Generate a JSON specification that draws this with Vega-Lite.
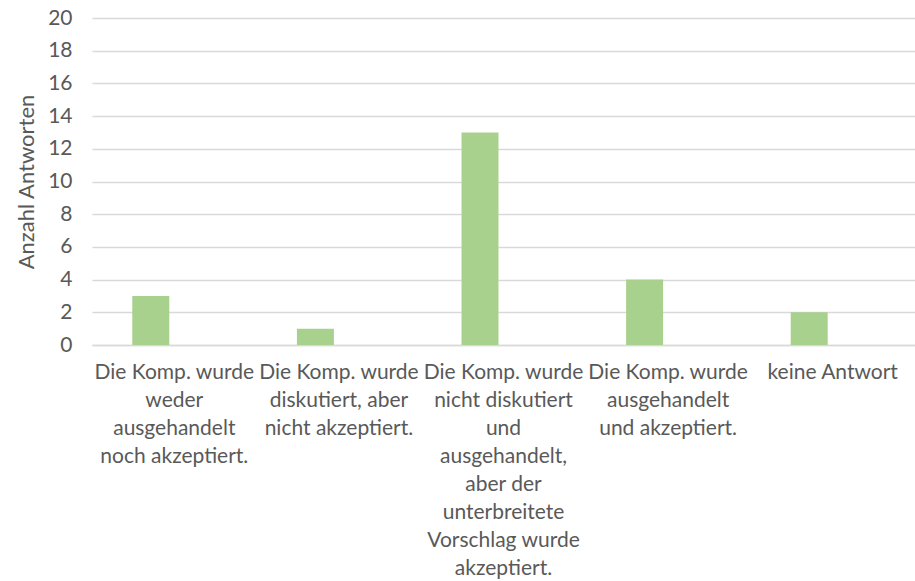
{
  "$schema": "https://vega.github.io/schema/vega-lite/v6.json",
  "width": 823,
  "height": 327,
  "autosize": {"type": "none"},
  "padding": {"left": 92, "top": 18, "right": 0, "bottom": 236},
  "background": "white",
  "config": {
    "view": {"stroke": null},
    "font": "Lato",
    "axis": {"labelFont": "Lato", "titleFont": "Lato", "labelColor": "#595959", "titleColor": "#595959", "titleFontWeight": "normal"}
  },
  "data": {
    "values": [
      {"kategorie": "Die Komp. wurde\nweder\nausgehandelt\nnoch akzeptiert.", "anzahl": 3},
      {"kategorie": "Die Komp. wurde\ndiskutiert, aber\nnicht akzeptiert.", "anzahl": 1},
      {"kategorie": "Die Komp. wurde\nnicht diskutiert\nund\nausgehandelt,\naber der\nunterbreitete\nVorschlag wurde\nakzeptiert.", "anzahl": 13},
      {"kategorie": "Die Komp. wurde\nausgehandelt\nund akzeptiert.", "anzahl": 4},
      {"kategorie": "keine Antwort", "anzahl": 2}
    ]
  },
  "mark": {"type": "bar", "color": "#A9D18E", "width": 37, "xOffset": -23.5},
  "encoding": {
    "x": {
      "field": "kategorie",
      "type": "nominal",
      "sort": null,
      "scale": {"paddingInner": 0, "paddingOuter": 0},
      "axis": {
        "title": null,
        "labelAngle": 0,
        "labelExpr": "split(datum.label, '\\n')",
        "labelFontSize": 21,
        "labelLineHeight": 28,
        "labelBaseline": "top",
        "labelPadding": 16,
        "labelLimit": 0,
        "ticks": false,
        "domain": true,
        "domainColor": "#D9D9D9",
        "domainWidth": 1.5,
        "grid": false
      }
    },
    "y": {
      "field": "anzahl",
      "type": "quantitative",
      "scale": {"domain": [0, 20], "nice": false},
      "axis": {
        "title": "Anzahl Antworten",
        "titleFontSize": 22,
        "titlePadding": 9,
        "values": [0, 2, 4, 6, 8, 10, 12, 14, 16, 18, 20],
        "labelFontSize": 21,
        "labelPadding": 20,
        "ticks": false,
        "domain": false,
        "grid": true,
        "gridColor": "#D9D9D9",
        "gridWidth": 1.5
      }
    }
  }
}
